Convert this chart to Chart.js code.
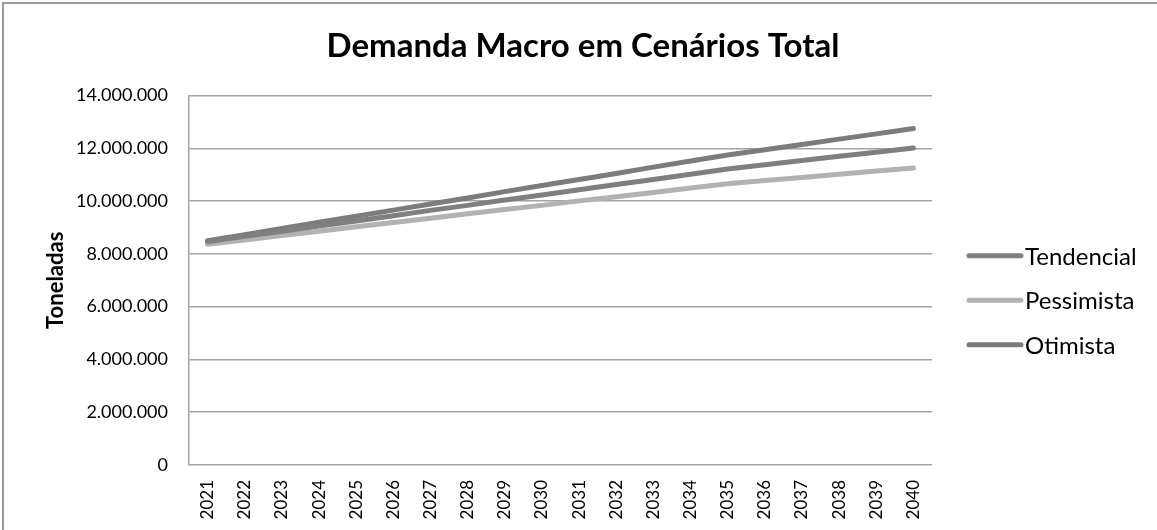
<!DOCTYPE html>
<html>
<head>
<meta charset="utf-8">
<title>Demanda Macro em Cenários Total</title>
<script src="https://cdn.jsdelivr.net/npm/chart.js@4"></script>
<style>
    html, body { margin: 0; padding: 0; background: #fff; }
    #wrap { position: relative; width: 1157px; height: 530px; }
    #frame {
        position: absolute; left: 2px; top: 2px; right: -10px; bottom: -10px;
        border-left: 2px solid #9a9a9a; border-top: 2px solid #9a9a9a;
        pointer-events: none;
    }
</style>
</head>
<body>
<div id="wrap">
    <canvas id="chart" width="1157" height="530"></canvas>
    <div id="frame"></div>
</div>
<script>
// Years on the x axis
const years = ['2021', '2022', '2023', '2024', '2025', '2026', '2027', '2028', '2029', '2030',
               '2031', '2032', '2033', '2034', '2035', '2036', '2037', '2038', '2039', '2040'];

// Demand in tonnes
const tendencial = [8470000, 8670000, 8860000, 9060000, 9250000, 9450000, 9650000, 9840000, 10040000, 10230000,
                    10430000, 10630000, 10820000, 11020000, 11220000, 11380000, 11540000, 11700000, 11850000, 12010000];
const pessimista = [8370000, 8530000, 8700000, 8860000, 9030000, 9190000, 9350000, 9520000, 9680000, 9840000,
                    10010000, 10170000, 10330000, 10500000, 10660000, 10780000, 10900000, 11020000, 11140000, 11260000];
const otimista = [8500000, 8730000, 8960000, 9200000, 9430000, 9660000, 9890000, 10120000, 10360000, 10590000,
                  10820000, 11050000, 11290000, 11520000, 11750000, 11950000, 12150000, 12350000, 12550000, 12750000];

// Y axis ticks
const yMin = 0;
const yMax = 14000000;
const yStep = 2000000;

const fontFamily = 'Lato, "Open Sans", sans-serif';

// Format numbers with dots as thousand separators
function fmt(v) {
    return String(v).replace(/\B(?=(\d{3})+(?!\d))/g, '.');
}

// Legend drawn to the right of the plot, line sample then label
const sideLegend = {
    id: 'sideLegend',
    afterDraw(chart) {
        const ctx = chart.ctx;
        const area = chart.chartArea;
        const sets = chart.data.datasets;
        const x0 = area.right + 37;
        const midY = (area.top + area.bottom) / 2 + 20;
        ctx.save();
        ctx.font = '24px ' + fontFamily;
        ctx.textBaseline = 'middle';
        ctx.fillStyle = '#000';
        sets.forEach((ds, i) => {
            const y = midY + (i - 1) * 44.5;
            ctx.beginPath();
            ctx.strokeStyle = ds.borderColor;
            ctx.lineWidth = ds.borderWidth;
            ctx.lineCap = 'round';
            ctx.moveTo(x0, y);
            ctx.lineTo(x0 + 52, y);
            ctx.stroke();
            ctx.fillText(ds.label, x0 + 56, y + 1);
        });
        ctx.restore();
    }
};

const ctx = document.getElementById('chart').getContext('2d');
new Chart(ctx, {
    type: 'line',
    data: {
        labels: years,
        datasets: [
            {
                label: 'Tendencial',
                data: tendencial,
                borderColor: '#7f7f7f',
                borderWidth: 5,
                borderCapStyle: 'round',
                pointRadius: 0,
                tension: 0
            },
            {
                label: 'Pessimista',
                data: pessimista,
                borderColor: '#b2b2b2',
                borderWidth: 5,
                borderCapStyle: 'round',
                pointRadius: 0,
                tension: 0
            },
            {
                label: 'Otimista',
                data: otimista,
                borderColor: '#7c7c7c',
                borderWidth: 5,
                borderCapStyle: 'round',
                pointRadius: 0,
                tension: 0
            }
        ]
    },
    options: {
        responsive: false,
        animation: false,
        layout: {
            padding: { left: 9, right: 0, top: 0, bottom: 0 }
        },
        plugins: {
            legend: { display: false },
            tooltip: { enabled: false },
            title: {
                display: true,
                text: 'Demanda Macro em Cenários Total',
                color: '#000',
                font: { family: fontFamily, size: 33, weight: 'bold' },
                padding: { top: 27, bottom: 29 }
            }
        },
        scales: {
            x: {
                offset: true,
                grid: { display: false, drawTicks: false },
                border: { display: false },
                ticks: {
                    color: '#000',
                    font: { family: fontFamily, size: 17 },
                    minRotation: 90,
                    maxRotation: 90,
                    autoSkip: false,
                    padding: 15
                },
                afterFit(scale) {
                    scale.height = 65;
                }
            },
            y: {
                min: yMin,
                max: yMax,
                grid: { color: '#a3a3a3', lineWidth: 1.5, drawTicks: false },
                border: { color: '#a3a3a3', width: 1.5 },
                ticks: {
                    stepSize: yStep,
                    color: '#000',
                    font: { family: fontFamily, size: 18 },
                    padding: 21,
                    callback: (v) => fmt(v)
                },
                title: {
                    display: true,
                    text: 'Toneladas',
                    color: '#000',
                    font: { family: fontFamily, size: 22, weight: 'bold' },
                    padding: { top: 34, bottom: 0 }
                },
                afterFit(scale) {
                    scale.width = 180;
                }
            },
            // empty right axis that reserves the legend space
            side: {
                position: 'right',
                min: yMin,
                max: yMax,
                grid: { display: false, drawTicks: false },
                border: { display: false },
                ticks: { display: false },
                afterFit(scale) {
                    scale.width = 225;
                }
            }
        }
    },
    plugins: [sideLegend]
});
</script>
</body>
</html>
